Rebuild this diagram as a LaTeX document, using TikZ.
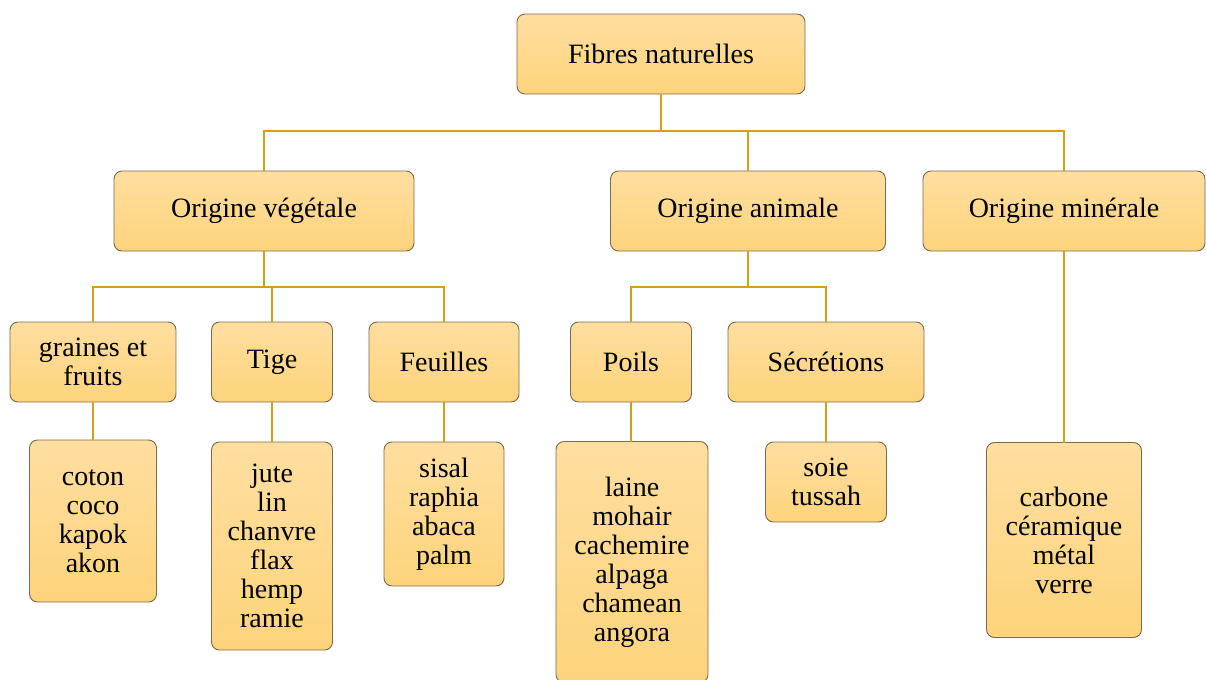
\documentclass[tikz,border=0pt]{standalone}
\usepackage{fontspec}
\setmainfont{Liberation Serif}
\usetikzlibrary{calc}
\definecolor{boxtop}{HTML}{FFDEA0}
\definecolor{boxbot}{HTML}{FDD47C}
\definecolor{boxline}{HTML}{7A6A4E}
\definecolor{linkcol}{HTML}{D4A017}
\tikzset{
	fbox/.style={draw=boxline, line width=0.7pt, rounded corners=6pt,
		top color=boxtop, bottom color=boxbot, inner sep=0pt, outer sep=0pt,
		align=center, font=\fontsize{21}{21.75}\selectfont},
	link/.style={draw=linkcol, line width=1.6pt}
}
\begin{document}
\begin{tikzpicture}[x=0.75pt,y=-0.75pt]
		\useasboundingbox (0,0) rectangle (1206,679);
		% Racine
		\node[fbox, minimum width=216pt, minimum height=60pt] (root) at (661,54) {Fibres naturelles};
		% Origines
		\node[fbox, minimum width=225pt, minimum height=60pt] (veg) at (264,211) {Origine végétale};
		\node[fbox, minimum width=206.25pt, minimum height=60pt] (ani) at (748,211) {Origine animale};
		\node[fbox, minimum width=211.5pt, minimum height=60pt] (min) at (1064,211) {Origine minérale};
		% Sous-classes
		\node[fbox, minimum width=124.5pt, minimum height=60pt] (graines) at (93,362) {graines et\\fruits};
		\node[fbox, minimum width=90.75pt, minimum height=60pt] (tige) at (272,362) {Tige};
		\node[fbox, minimum width=112.5pt, minimum height=60pt] (feuilles) at (444,362) {Feuilles};
		\node[fbox, minimum width=90.75pt, minimum height=60pt] (poils) at (631,362) {Poils};
		\node[fbox, minimum width=147pt, minimum height=60pt] (secr) at (826,362) {Sécrétions};
		% Exemples
		\node[fbox, minimum width=95.25pt, minimum height=121.5pt] (lgraines) at (93,521) {coton\\coco\\kapok\\akon};
		\node[fbox, minimum width=90.75pt, minimum height=156pt] (ltige) at (272,546) {jute\\lin\\chanvre\\flax\\hemp\\ramie};
		\node[fbox, minimum width=90pt, minimum height=108pt] (lfeuilles) at (444,514) {sisal\\raphia\\abaca\\palm};
		\node[fbox, minimum width=114pt, minimum height=180.75pt] (lpoils) at (632,562) {laine\\mohair\\cachemire\\alpaga\\chamean\\angora};
		\node[fbox, minimum width=90.75pt, minimum height=60pt] (lsecr) at (826,482) {soie\\tussah};
		\node[fbox, minimum width=116.25pt, minimum height=146.25pt] (lmin) at (1064,540) {carbone\\céramique\\métal\\verre};
		% Liaisons
		\coordinate (b0) at (661,131); %bus principal
		\coordinate (bv) at (264,287);
		\coordinate (ba) at (748,287);
		\draw[link] (root.south) -- (b0) -| (veg.north);
		\draw[link] (b0) -| (ani.north);
		\draw[link] (b0) -| (min.north);
		\draw[link] (veg.south) -- (bv) -| (graines.north);
		\draw[link] (bv) -| (tige.north);
		\draw[link] (bv) -| (feuilles.north);
		\draw[link] (ani.south) -- (ba) -| (poils.north);
		\draw[link] (ba) -| (secr.north);
		\draw[link] (graines.south) -- (lgraines.north);
		\draw[link] (tige.south) -- (ltige.north);
		\draw[link] (feuilles.south) -- (lfeuilles.north);
		\draw[link] (poils.south) -- (poils.south |- lpoils.north);
		\draw[link] (secr.south) -- (lsecr.north);
		\draw[link] (min.south) -- (lmin.north);
	\end{tikzpicture}
\end{document}
